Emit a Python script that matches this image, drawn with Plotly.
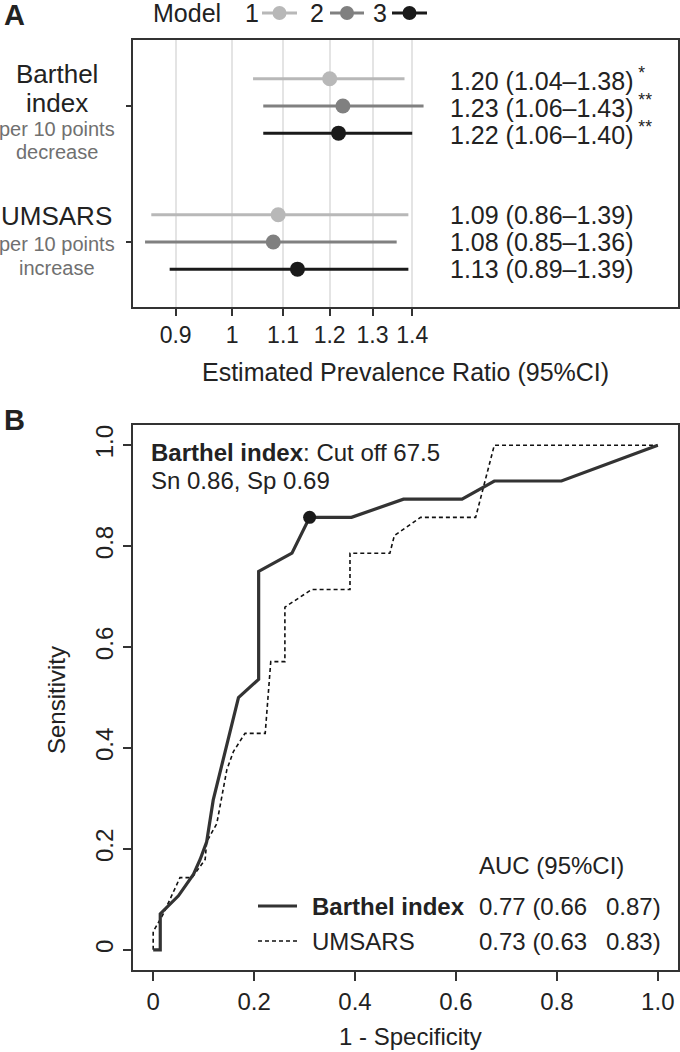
import numpy as np
import plotly.graph_objects as go

# ---------------- DATA ----------------
# Panel A: prevalence ratios (model 1, 2, 3)
groups = ["Barthel index", "UMSARS"]
models = ["1", "2", "3"]
barthel_est = [1.20, 1.23, 1.22]
barthel_lo = [1.04, 1.06, 1.06]
barthel_hi = [1.38, 1.43, 1.40]
umsars_est = [1.09, 1.08, 1.13]
umsars_lo = [0.86, 0.85, 0.89]
umsars_hi = [1.39, 1.36, 1.39]
barthel_txt = ["1.20 (1.04\u20131.38)<sup> *</sup>", "1.23 (1.06\u20131.43)<sup> **</sup>", "1.22 (1.06\u20131.40)<sup> **</sup>"]
umsars_txt = ["1.09 (0.86\u20131.39)", "1.08 (0.85\u20131.36)", "1.13 (0.89\u20131.39)"]
a_ticks = [0.9, 1, 1.1, 1.2, 1.3, 1.4]
a_ticktext = ["0.9", "1", "1.1", "1.2", "1.3", "1.4"]

# Panel B: ROC curves (1 - specificity, sensitivity)
barthel_fpr = [0, 0.014, 0.014, 0.05, 0.08, 0.093, 0.106, 0.119, 0.169, 0.209, 0.209, 0.275, 0.31,
               0.393, 0.496, 0.612, 0.676, 0.809, 1.0]
barthel_tpr = [0, 0, 0.071, 0.107, 0.15, 0.179, 0.214, 0.297, 0.5, 0.536, 0.75, 0.786, 0.857,
               0.857, 0.893, 0.893, 0.929, 0.929, 1.0]
umsars_fpr = [0, 0, 0.02, 0.053, 0.077, 0.103, 0.106, 0.126, 0.146, 0.159, 0.182, 0.222, 0.233,
              0.261, 0.261, 0.314, 0.39, 0.39, 0.469, 0.478, 0.53, 0.639, 0.676, 1.0]
umsars_tpr = [0, 0.036, 0.071, 0.143, 0.143, 0.179, 0.214, 0.25, 0.357, 0.393, 0.429, 0.429, 0.571,
              0.571, 0.679, 0.714, 0.714, 0.786, 0.786, 0.821, 0.857, 0.857, 1.0, 1.0]
cut_fpr = [0.31]
cut_tpr = [0.857]
b_ticks = [0, 0.2, 0.4, 0.6, 0.8, 1.0]
b_ticktext = ["0", "0.2", "0.4", "0.6", "0.8", "1.0"]

# ---------------- STYLE ----------------
W, H = 680, 1052
FONT = "Liberation Sans, Arial, Helvetica, sans-serif"
TXT = "#222222"
AXC = "#333333"
model_colors = ["#b8b8b8", "#808080", "#1a1a1a"]
group_pos = [2, 1]
row_off = [0.2, 0.0, -0.2]


def px(x):
    return x / W


def py(y):
    return 1 - y / H


fig = go.Figure()

# ---- Panel A traces ----
for gi, (est, lo, hi) in enumerate([(barthel_est, barthel_lo, barthel_hi),
                                     (umsars_est, umsars_lo, umsars_hi)]):
    for mi in range(3):
        fig.add_trace(go.Scatter(
            x=[est[mi]], y=[group_pos[gi] + row_off[mi]],
            mode="markers",
            marker=dict(size=15, color=model_colors[mi]),
            error_x=dict(type="data", symmetric=False,
                         array=[hi[mi] - est[mi]], arrayminus=[est[mi] - lo[mi]],
                         width=0, thickness=3, color=model_colors[mi]),
            xaxis="x", yaxis="y", showlegend=False, hoverinfo="skip"))

# ---- Panel B traces ----
fig.add_trace(go.Scatter(x=umsars_fpr, y=umsars_tpr, mode="lines",
                         line=dict(color="#111111", width=1.6, dash="4px,3px"),
                         xaxis="x2", yaxis="y2", showlegend=False, hoverinfo="skip"))
fig.add_trace(go.Scatter(x=barthel_fpr, y=barthel_tpr, mode="lines",
                         line=dict(color="#333333", width=3.2),
                         xaxis="x2", yaxis="y2", showlegend=False, hoverinfo="skip"))
fig.add_trace(go.Scatter(x=cut_fpr, y=cut_tpr, mode="markers",
                         marker=dict(size=13, color="#1a1a1a"),
                         xaxis="x2", yaxis="y2", showlegend=False, hoverinfo="skip"))

ax_common = dict(showline=True, linecolor=AXC, linewidth=2, mirror=True,
                 ticks="outside", tickcolor=AXC, tickwidth=1.5, zeroline=False,
                 tickfont=dict(family=FONT, size=23, color=TXT))

fig.update_layout(
    width=W, height=H, autosize=False,
    margin=dict(l=0, r=0, t=0, b=0),
    paper_bgcolor="white", plot_bgcolor="white",
    font=dict(family=FONT, color=TXT),
    xaxis=dict(type="log", domain=[px(133), px(678)],
               range=[np.log10(0.8311), np.log10(2.30)],
               tickvals=a_ticks, ticktext=a_ticktext, ticklen=7,
               showgrid=True, gridcolor="#e4e4e4", gridwidth=1.5,
               anchor="y", **ax_common),
    yaxis=dict(domain=[py(306.7), py(40)], range=[0.524, 2.485],
               tickvals=group_pos, ticklen=5, showgrid=False,
               showticklabels=False, anchor="x", **ax_common),
    xaxis2=dict(domain=[px(133), px(678)], range=[-0.04, 1.04],
                tickvals=b_ticks, ticktext=b_ticktext, ticklen=9, showgrid=False,
                anchor="y2", **{**ax_common, "tickfont": dict(family=FONT, size=24, color=TXT)}),
    yaxis2=dict(domain=[py(970), py(425)], range=[-0.04, 1.04],
                tickvals=b_ticks, ticktext=b_ticktext, ticklen=8, showgrid=False,
                tickangle=-90, anchor="x2",
                **{**ax_common, "tickfont": dict(family=FONT, size=24, color=TXT)}),
)

shapes = []
ann = []

# reference line at PR = 1
shapes.append(dict(type="line", xref="x", yref="y domain", x0=np.log10(1.0), x1=np.log10(1.0),
                   y0=0, y1=1, line=dict(color="#333333", width=2, dash="7px,6px"), layer="above"))


def text(x, y, s, size=24, xanchor="left", color=TXT, angle=0):
    ann.append(dict(xref="paper", yref="paper", x=px(x), y=py(y), text=s, showarrow=False,
                    xanchor=xanchor, yanchor="middle", textangle=angle,
                    font=dict(family=FONT, size=size, color=color)))


# Panel letters
text(2, 15, "<b>A</b>", size=29)
text(2, 420, "<b>B</b>", size=29)

# Panel A top legend
text(151, 13, "Model", size=25)
leg_num_x = [252, 317, 380]
leg_line = [(262, 297), (330, 364), (392, 427)]
for mi in range(3):
    text(leg_num_x[mi], 13, models[mi], size=25, xanchor="center")
    x0, x1 = leg_line[mi]
    shapes.append(dict(type="line", xref="paper", yref="paper", x0=px(x0), x1=px(x1),
                       y0=py(13), y1=py(13), line=dict(color=model_colors[mi], width=3)))
    cx = (x0 + x1) / 2
    r = 7
    shapes.append(dict(type="circle", xref="paper", yref="paper", x0=px(cx - r), x1=px(cx + r),
                       y0=py(13 + r), y1=py(13 - r), fillcolor=model_colors[mi],
                       line=dict(color=model_colors[mi], width=0)))

# Panel A left labels
text(57, 74, "Barthel", size=26, xanchor="center")
text(57, 103, "index", size=26, xanchor="center")
text(57, 129, "per 10 points", size=20, xanchor="center", color="#707070")
text(57, 152, "decrease", size=20, xanchor="center", color="#707070")
text(57, 216, "UMSARS", size=26, xanchor="center")
text(57, 244, "per 10 points", size=20, xanchor="center", color="#707070")
text(57, 268, "increase", size=20, xanchor="center", color="#707070")

# Panel A value text
for gi, labels in enumerate([barthel_txt, umsars_txt]):
    for mi in range(3):
        ann.append(dict(xref="paper", yref="y", x=px(448), y=group_pos[gi] + row_off[mi],
                        text=labels[mi], showarrow=False, xanchor="left", yanchor="middle",
                        font=dict(family=FONT, size=25, color=TXT)))

# Panel A x title
text(405, 372, "Estimated Prevalence Ratio (95%CI)", size=25, xanchor="center")

# Panel B annotations
text(149, 453, "<b>Barthel index</b>: Cut off 67.5", size=24)
text(149, 480, "Sn 0.86, Sp 0.69", size=24)

text(477, 865, "AUC (95%CI)", size=24)
shapes.append(dict(type="line", xref="paper", yref="paper", x0=px(258), x1=px(297),
                   y0=py(906), y1=py(906), line=dict(color="#333333", width=3.2)))
shapes.append(dict(type="line", xref="paper", yref="paper", x0=px(258), x1=px(297),
                   y0=py(941), y1=py(941), line=dict(color="#111111", width=1.6, dash="4px,3px")))
text(310, 906, "<b>Barthel index</b>", size=24)
text(477, 906, "0.77 (0.66", size=24)
text(663, 906, "0.87)", size=24, xanchor="right")
text(310, 941, "UMSARS", size=24)
text(477, 941, "0.73 (0.63", size=24)
text(663, 941, "0.83)", size=24, xanchor="right")

# Panel B axis titles
text(410, 1036, "1 - Specificity", size=24, xanchor="center")
ann.append(dict(xref="paper", yref="paper", x=px(56), y=py(700), text="Sensitivity",
                showarrow=False, xanchor="center", yanchor="middle", textangle=-90,
                font=dict(family=FONT, size=24, color=TXT)))

fig.update_layout(shapes=shapes, annotations=ann)

fig.write_html("out.html")
